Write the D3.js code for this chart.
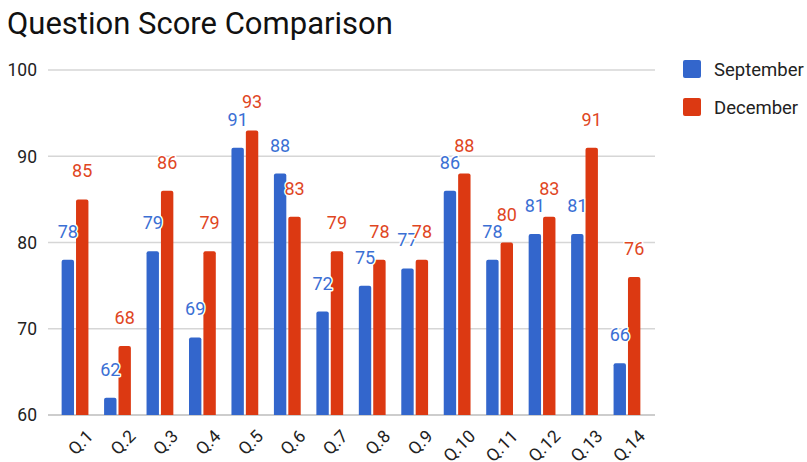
<!DOCTYPE html>
<html>
<head>
<meta charset="utf-8">
<script src="https://cdn.jsdelivr.net/npm/d3@7"></script>
<style>
  html, body { margin: 0; padding: 0; background: #fff; }
  svg { display: block; font-family: Roboto, "Noto Sans", sans-serif; }
</style>
</head>
<body>
<svg id="chart" width="807" height="462"></svg>
<script>
// Quiz question scores, two sittings
const questions = ["Q.1","Q.2","Q.3","Q.4","Q.5","Q.6","Q.7","Q.8","Q.9","Q.10","Q.11","Q.12","Q.13","Q.14"];
const september = [78,62,79,69,91,88,72,75,77,86,78,81,81,66];
const december  = [85,68,86,79,93,83,79,78,78,88,80,83,91,76];
const yTicks = [60,70,80,90,100];
const seriesNames = ["September","December"];
const seriesColors = ["#3366cc","#dc3912"];
const labelColors = ["#3b6fd4","#e0461f"];

const svg = d3.select("#chart");

// Title
svg.append("text")
  .attr("x", 7).attr("y", 34)
  .attr("font-size", 31)
  .attr("fill", "#111")
  .text("Question Score Comparison");

const y = d3.scaleLinear().domain([60, 100]).range([415, 70]);
const x = d3.scaleBand().domain(questions).range([53.8, 648.2]);
const plotLeft = 48, plotRight = 655;

// Gridlines
svg.append("g").selectAll("line")
  .data(yTicks)
  .join("line")
  .attr("x1", plotLeft).attr("x2", plotRight)
  .attr("y1", d => y(d)).attr("y2", d => y(d))
  .attr("stroke", d => d === 60 ? "#bdbdbd" : "#d6d6d6")
  .attr("stroke-width", 1.3);

// Y axis labels
svg.append("g").selectAll("text")
  .data(yTicks)
  .join("text")
  .attr("x", 37).attr("y", d => y(d))
  .attr("dy", "0.36em")
  .attr("text-anchor", "end")
  .attr("font-size", 17.5)
  .attr("fill", "#222")
  .text(d => d);

// Bars
const barW = 12.4, gap = 1;
const rows = questions.map((q, i) => ({ q, vals: [september[i], december[i]] }));

function roundedTop(x0, y0, w, h, r) {
  r = Math.min(r, h, w / 2);
  return `M${x0},${y0 + h}V${y0 + r}Q${x0},${y0} ${x0 + r},${y0}H${x0 + w - r}Q${x0 + w},${y0} ${x0 + w},${y0 + r}V${y0 + h}Z`;
}

const groups = svg.append("g").selectAll("g")
  .data(rows)
  .join("g");

groups.each(function(d) {
  const g = d3.select(this);
  const c = x(d.q) + x.bandwidth() / 2;
  d.vals.forEach((v, s) => {
    const x0 = s === 0 ? c - gap - barW : c + gap;
    const top = y(v);
    g.append("path")
      .attr("d", roundedTop(x0, top, barW, y(60) - top, 2))
      .attr("fill", seriesColors[s]);
  });
});

// Value labels (drawn after all bars so they sit on top)
groups.each(function(d) {
  const g = d3.select(this);
  const c = x(d.q) + x.bandwidth() / 2;
  d.vals.forEach((v, s) => {
    const xc = s === 0 ? c - gap - barW / 2 : c + gap + barW / 2;
    g.append("text")
      .attr("x", xc).attr("y", y(v) - 22)
      .attr("text-anchor", "middle")
      .attr("font-size", 18)
      .attr("fill", labelColors[s])
      .attr("stroke", "#fff").attr("stroke-width", 3)
      .attr("paint-order", "stroke")
      .attr("stroke-linejoin", "round")
      .text(v);
  });
});

// X axis labels, rotated
svg.append("g").selectAll("text")
  .data(questions)
  .join("text")
  .attr("transform", d => `translate(${x(d) + x.bandwidth() / 2 + 10},${428}) rotate(-45)`)
  .attr("text-anchor", "end")
  .attr("dy", "0.75em")
  .attr("font-size", 17.5)
  .attr("fill", "#222")
  .text(d => d);

// Legend
const legend = svg.append("g").selectAll("g")
  .data(seriesNames)
  .join("g")
  .attr("transform", (d, i) => `translate(683,${60 + i * 38})`);
legend.append("rect")
  .attr("width", 18).attr("height", 18).attr("rx", 2)
  .attr("fill", (d, i) => seriesColors[i]);
legend.append("text")
  .attr("x", 31).attr("y", 9).attr("dy", "0.36em")
  .attr("font-size", 18.5)
  .attr("fill", "#222")
  .text(d => d);
</script>
</body>
</html>
